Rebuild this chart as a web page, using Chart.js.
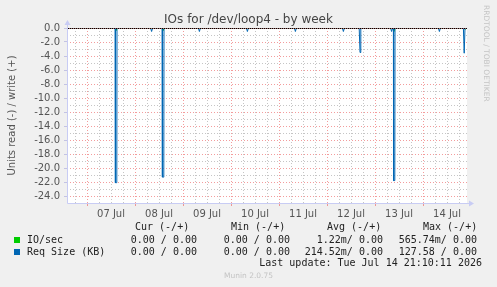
<!DOCTYPE html>
<html>
<head>
<meta charset="utf-8">
<script src="https://cdn.jsdelivr.net/npm/chart.js@4.4.1/dist/chart.umd.min.js"></script>
<style>
html, body { margin: 0; padding: 0; background: #f0f0f0; }
#wrap { position: relative; width: 497px; height: 287px; overflow: hidden; }
#chart { position: absolute; left: 0; top: 0; }
.txt { position: absolute; white-space: pre; font-family: "DejaVu Sans Mono", monospace; font-size: 10px; line-height: 12px; color: #222; }
.num { text-align: right; }
.sq { position: absolute; width: 6px; height: 6px; }
#title { position: absolute; left: 0; width: 497px; top: 11px; text-align: center; font-family: "DejaVu Sans", sans-serif; font-size: 12px; line-height: 16px; color: #444; }
#rrd { position: absolute; left: 482px; top: 5px; font-family: "DejaVu Sans", sans-serif; font-size: 7.5px; line-height: 9px; color: #c4c4c4; writing-mode: vertical-rl; white-space: pre; }
#munin { position: absolute; left: 0; width: 497px; top: 271px; text-align: center; font-family: "DejaVu Sans", sans-serif; font-size: 7.5px; line-height: 10px; color: #c4c4c4; }
</style>
</head>
<body>
<div id="wrap">
<canvas id="chart" width="497" height="287"></canvas>
<div id="title">IOs for /dev/loop4 - by week</div>
<div id="rrd">RRDTOOL / TOBI OETIKER</div>

<div class="txt" style="left:135px; top:221px;">Cur (-/+)</div>
<div class="txt" style="left:231px; top:221px;">Min (-/+)</div>
<div class="txt" style="left:327px; top:221px;">Avg (-/+)</div>
<div class="txt" style="left:423px; top:221px;">Max (-/+)</div>

<div class="sq" style="left:14px; top:237px; background:#00cc00;"></div>
<div class="txt" style="left:27px; top:234px;">IO/sec</div>
<div class="txt num" style="right:300px; top:234px;">0.00 / 0.00</div>
<div class="txt num" style="right:207px; top:234px;">0.00 / 0.00</div>
<div class="txt num" style="right:114px; top:234px;">1.22m/ 0.00</div>
<div class="txt num" style="right:20px; top:234px;">565.74m/ 0.00</div>

<div class="sq" style="left:14px; top:249px; background:#0066b3;"></div>
<div class="txt" style="left:27px; top:246px;">Req Size (KB)</div>
<div class="txt num" style="right:300px; top:246px;">0.00 / 0.00</div>
<div class="txt num" style="right:207px; top:246px;">0.00 / 0.00</div>
<div class="txt num" style="right:114px; top:246px;">214.52m/ 0.00</div>
<div class="txt num" style="right:20px; top:246px;">127.58 / 0.00</div>

<div class="txt num" style="right:15px; top:257px;">Last update: Tue Jul 14 21:10:11 2026</div>
<div id="munin">Munin 2.0.75</div>
</div>

<script>
// hours counted from 06 Jul 00:00
const xStart = 14;
const xEnd = 214;
const dayLabels = ["07 Jul", "08 Jul", "09 Jul", "10 Jul", "11 Jul", "12 Jul", "13 Jul", "14 Jul"];
const dayNoons = [36, 60, 84, 108, 132, 156, 180, 204];
const yTicks = [0, -2, -4, -6, -8, -10, -12, -14, -16, -18, -20, -22, -24];

// Req Size (KB), read side (drawn negative)
const reqTimes = [14, 38.1, 38.2, 38.9, 39, 55.8, 56.3, 56.8, 61.6, 61.7, 62.4, 62.5,
    79.7, 80.2, 80.7, 103.7, 104.2, 104.7, 127.7, 128.2, 128.7, 151.7, 152.2, 152.7,
    160.1, 160.5, 160.9, 175.8, 176.3, 176.8, 177.2, 177.3, 177.9, 178,
    199.7, 200.2, 200.7, 212.2, 212.6, 213, 214];
const reqValues = [0, 0, -22.1, -22.1, 0, 0, -0.5, 0, 0, -21.3, -21.3, 0,
    0, -0.5, 0, 0, -0.5, 0, 0, -0.5, 0, 0, -0.5, 0,
    0, -3.5, 0, 0, -0.5, 0, 0, -21.8, -21.8, 0,
    0, -0.5, 0, 0, -3.6, 0, 0];

// IO/sec, read side (drawn negative)
const ioTimes = [14, 38, 38.5, 39, 61.5, 62, 62.5, 177.1, 177.5, 178, 212.8, 213.2, 213.6, 214];
const ioValues = [0, 0, -0.4, 0, 0, -0.4, 0, 0, -0.5, 0, 0, -0.2, 0, 0];

const majorColor = "rgba(235, 90, 90, 0.6)";
const minorColor = "rgba(150, 150, 150, 0.55)";
const axisColor = "#c8ccf4";

function toPoints(times, values) {
    return times.map((t, i) => ({ x: t, y: values[i] }));
}

function crisp(v) {
    return Math.round(v) + 0.5;
}

const rrdGrid = {
    id: "rrdGrid",
    beforeDraw(chart) {
        const { ctx, chartArea: a } = chart;
        ctx.save();
        ctx.fillStyle = "#ffffff";
        ctx.fillRect(a.left, a.top, a.right - a.left, a.bottom - a.top);
        ctx.restore();
    },
    beforeDatasetsDraw(chart) {
        const { ctx, chartArea: a, scales } = chart;
        ctx.save();
        ctx.lineWidth = 1;
        ctx.setLineDash([1, 2]);
        for (let h = 18; h < xEnd; h += 6) {
            const px = crisp(scales.x.getPixelForValue(h));
            ctx.strokeStyle = h % 24 === 0 ? majorColor : minorColor;
            ctx.beginPath();
            ctx.moveTo(px, a.top);
            ctx.lineTo(px, a.bottom);
            ctx.stroke();
        }
        for (let v = -24; v < 0; v++) {
            const py = crisp(scales.y.getPixelForValue(v));
            ctx.strokeStyle = v % 2 === 0 ? majorColor : minorColor;
            ctx.beginPath();
            ctx.moveTo(a.left, py);
            ctx.lineTo(a.right, py);
            ctx.stroke();
        }
        ctx.restore();
    },
    afterDatasetsDraw(chart) {
        const { ctx, chartArea: a, scales } = chart;
        const py = Math.round(scales.y.getPixelForValue(0)) + 0.5;
        ctx.save();
        ctx.lineWidth = 1;
        ctx.setLineDash([1, 1]);
        ctx.strokeStyle = majorColor;
        ctx.beginPath();
        ctx.moveTo(a.left, py);
        ctx.lineTo(a.right, py);
        ctx.stroke();
        ctx.lineDashOffset = 1;
        ctx.strokeStyle = "#000000";
        ctx.beginPath();
        ctx.moveTo(a.left, py);
        ctx.lineTo(a.right, py);
        ctx.stroke();

        // axes with arrows
        ctx.setLineDash([]);
        ctx.lineDashOffset = 0;
        ctx.strokeStyle = axisColor;
        ctx.fillStyle = axisColor;
        const lx = crisp(a.left);
        const by = crisp(a.bottom);
        ctx.beginPath();
        ctx.moveTo(lx, a.top - 4);
        ctx.lineTo(lx, by);
        ctx.lineTo(a.right + 3, by);
        ctx.stroke();
        ctx.beginPath();
        ctx.moveTo(lx - 3, a.top - 3);
        ctx.lineTo(lx + 3, a.top - 3);
        ctx.lineTo(lx, a.top - 8);
        ctx.closePath();
        ctx.fill();
        ctx.beginPath();
        ctx.moveTo(a.right + 2, by - 3);
        ctx.lineTo(a.right + 2, by + 3);
        ctx.lineTo(a.right + 7, by);
        ctx.closePath();
        ctx.fill();
        ctx.restore();
    }
};

const context = document.getElementById("chart");

new Chart(context, {
    type: "line",
    data: {
        datasets: [{
            label: "IO/sec",
            data: toPoints(ioTimes, ioValues),
            borderColor: "#00cc00",
            borderWidth: 1,
            pointRadius: 0,
            tension: 0,
            order: 1
        }, {
            label: "Req Size (KB)",
            data: toPoints(reqTimes, reqValues),
            borderColor: "#0066b3",
            borderWidth: 1,
            pointRadius: 0,
            tension: 0,
            order: 0
        }]
    },
    options: {
        responsive: false,
        animation: false,
        layout: {
            padding: { top: 28, right: 30, left: 0, bottom: 0 }
        },
        plugins: {
            legend: { display: false },
            tooltip: { enabled: false }
        },
        scales: {
            x: {
                type: "linear",
                min: xStart,
                max: xEnd,
                afterFit: (scale) => { scale.height = 84; },
                afterBuildTicks: (scale) => {
                    scale.ticks = [];
                    for (let h = 18; h < xEnd; h += 6) {
                        scale.ticks.push({ value: h });
                    }
                },
                border: { display: false },
                grid: {
                    drawOnChartArea: false,
                    tickLength: 3,
                    tickColor: (c) => (c.tick && c.tick.value % 24 === 0) ? majorColor : "rgba(0,0,0,0)"
                },
                ticks: {
                    autoSkip: false,
                    maxRotation: 0,
                    padding: 2,
                    color: "#555",
                    font: { family: "DejaVu Sans", size: 10 },
                    callback: (value) => {
                        const i = dayNoons.indexOf(value);
                        return i >= 0 ? dayLabels[i] : "";
                    }
                }
            },
            y: {
                type: "linear",
                min: -25,
                max: 0,
                afterFit: (scale) => { scale.width = 67; },
                afterBuildTicks: (scale) => {
                    scale.ticks = yTicks.map((v) => ({ value: v }));
                },
                border: { display: false },
                grid: {
                    drawOnChartArea: false,
                    tickLength: 3,
                    tickColor: "rgba(190,190,225,0.9)"
                },
                title: {
                    display: true,
                    text: "Units read (-) / write (+)",
                    color: "#555",
                    font: { family: "DejaVu Sans", size: 10 },
                    padding: { top: 6, bottom: 0 }
                },
                ticks: {
                    autoSkip: false,
                    padding: 4,
                    color: "#555",
                    font: { family: "DejaVu Sans", size: 10 },
                    callback: (value) => value.toFixed(1)
                }
            }
        }
    },
    plugins: [rrdGrid]
});
</script>
</body>
</html>
